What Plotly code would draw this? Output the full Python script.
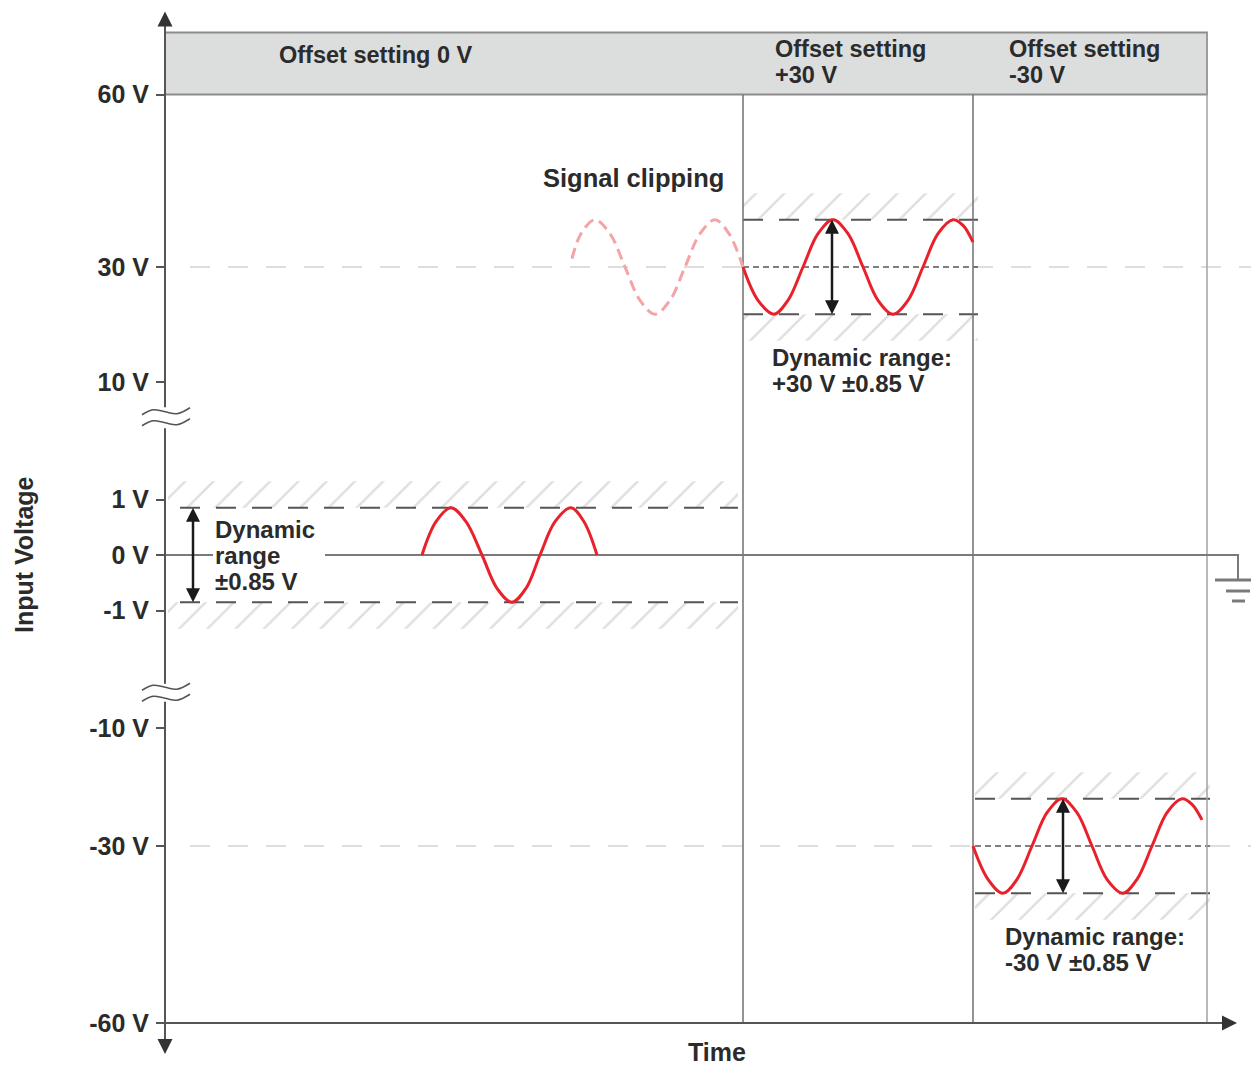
import numpy as np
import plotly.graph_objects as go

# ---------------- data ----------------
TICK_VOLTS = [60, 30, 10, 1, 0, -1, -10, -30, -60]
TICK_LABELS = ["60 V", "30 V", "10 V", "1 V", "0 V", "-1 V", "-10 V", "-30 V", "-60 V"]

WINDOW_TITLES = [["Offset setting 0 V"], ["Offset setting", "+30 V"], ["Offset setting", "-30 V"]]
WINDOW_OFFSETS = [0, 30, -30]            # offset of each window (V)
WINDOW_EDGES = [0, 578, 808, 1042]       # time at which the offset setting changes
RANGE_SPANS = [(15, 573), (578, 813), (810, 1045)]   # time span of dynamic-range bounds
HATCH_SPANS = [(3, 573), (578, 813), (810, 1045)]
DYN_HALF = 0.85      # dynamic range +-0.85 V
HATCH_DEPTH = 0.48   # hatched out-of-range zone (V)

RANGE_LABELS = [["Dynamic", "range", "\u00b10.85 V"],
                ["Dynamic range:", "+30 V \u00b10.85 V"],
                ["Dynamic range:", "-30 V \u00b10.85 V"]]

# signal in 0 V setting (time, deviation from offset in V)
SIG0_T = [257, 271, 286, 301, 317, 332, 347, 361, 375, 390, 406, 419, 432]
SIG0_DV = [0, 0.6, 0.85, 0.6, 0, -0.6, -0.85, -0.6, 0, 0.6, 0.85, 0.6, 0]
# clipped signal (30 V signal seen with 0 V offset)
CLIP_T = [407, 416, 430, 445, 460, 475, 490, 505, 520, 535, 550, 564, 578]
CLIP_DV = [0.15, 0.6, 0.85, 0.6, 0, -0.6, -0.85, -0.6, 0, 0.6, 0.85, 0.6, 0]
# signal in +30 V setting
SIGP_T = [578, 593, 609, 623, 638, 653, 668, 683, 698, 713, 728, 743, 758, 773, 788, 798, 808]
SIGP_DV = [0, -0.6, -0.85, -0.6, 0, 0.6, 0.85, 0.6, 0, -0.6, -0.85, -0.6, 0, 0.6, 0.85, 0.75, 0.45]
# signal in -30 V setting
SIGN_T = [808, 823, 838, 852, 867, 882, 897, 912, 927, 942, 958, 972, 987, 1002, 1017, 1027, 1037]
SIGN_DV = [0, -0.6, -0.85, -0.6, 0, 0.6, 0.85, 0.6, 0, -0.6, -0.85, -0.6, 0, 0.6, 0.85, 0.75, 0.47]

ARROW_T = [28, 667, 898]     # time of the dynamic-range arrows
GROUND_T = 1073
BREAK_V = 7.3                # where the voltage axis is broken

# ---------------- styles ----------------
FONT = "Liberation Sans, Arial, Helvetica, sans-serif"
TXT = "#2b2b2b"
RED = "#e8212b"
PINK = "#f5a3a6"
AX = "#555555"
DASH_C = "#555555"

# broken voltage scale (display units)
K_IN = 55.5
D10 = 173.0
K_POS = 5.75
K_NEG = 5.9


def v2d(v):
    v = np.asarray(v, float)
    a = np.abs(v)
    inner = a * K_IN
    mid = K_IN + (a - 1) * (D10 - K_IN) / 9.0
    k = np.where(v >= 0, K_POS, K_NEG)
    outer = D10 + (a - 10) * k
    d = np.where(a <= 1, inner, np.where(a <= 10, mid, outer))
    return np.sign(v) * d


def local(off, dv):
    return float(v2d(off)) + np.asarray(dv, float) * K_IN


fig = go.Figure()


def line(xs, ys, color, width, dash=None, spline=False):
    ln = dict(color=color, width=width)
    if dash:
        ln["dash"] = dash
    if spline:
        ln["shape"] = "spline"
        ln["smoothing"] = 1.0
    fig.add_trace(go.Scatter(x=list(xs), y=list(map(float, ys)), mode="lines", line=ln,
                             hoverinfo="skip", showlegend=False))


def marker(x, y, symbol, size, color):
    fig.add_trace(go.Scatter(x=[x], y=[float(y)], mode="markers",
                             marker=dict(symbol=symbol, size=size, color=color, line=dict(width=0)),
                             hoverinfo="skip", showlegend=False))


X0 = 0.0
Y_M60 = float(v2d(-60))
Y_P60 = float(v2d(60))
HEADER_TOP = Y_P60 + 62
AXIS_TOP = HEADER_TOP + 21
AXIS_BOT = Y_M60 - 31
T_END = 1094

# hatched out-of-range zones
for off, (a, b) in zip(WINDOW_OFFSETS, HATCH_SPANS):
    for sgn in (1, -1):
        y1 = local(off, sgn * DYN_HALF)
        y2 = local(off, sgn * (DYN_HALF + HATCH_DEPTH))
        fig.add_trace(go.Scatter(x=[a, b, b, a, a], y=[y1, y1, y2, y2, y1], mode="lines",
                                 line=dict(width=0), fill="toself", fillcolor="rgba(0,0,0,0)",
                                 fillpattern=dict(shape="/", size=20, solidity=0.12,
                                                  fgcolor="#bdbdbd", bgcolor="rgba(0,0,0,0)"),
                                 hoverinfo="skip", showlegend=False))

# +-30 V reference lines
c30 = float(v2d(30))
cm30 = float(v2d(-30))
LIGHT = "#d4d4d4"
line([25, WINDOW_EDGES[1]], [c30, c30], LIGHT, 1.5, "20px,18px")
line([WINDOW_EDGES[2], T_END], [c30, c30], LIGHT, 1.5, "20px,18px")
line([25, WINDOW_EDGES[2]], [cm30, cm30], LIGHT, 1.5, "20px,18px")
line([RANGE_SPANS[2][1], T_END], [cm30, cm30], LIGHT, 1.5, "20px,18px")

# window centre lines + dynamic range bounds
for i, off in enumerate(WINDOW_OFFSETS):
    a, b = RANGE_SPANS[i]
    c = float(v2d(off))
    if off != 0:
        line([a, b], [c, c], DASH_C, 1.5, "6px,4px")
    for sgn in (1, -1):
        y = local(off, sgn * DYN_HALF)
        line([a, b], [y, y], DASH_C, 2, "20px,16px")

# window dividers
for t in WINDOW_EDGES[1:3]:
    line([t, t], [Y_M60, Y_P60], "#707070", 1.5)
line([WINDOW_EDGES[3]] * 2, [Y_M60, HEADER_TOP], "#a2a2a2", 1.5)

# 0 V line and ground symbol
line([X0, 48], [0, 0], "#7a7a7a", 2)
line([160, GROUND_T, GROUND_T], [0, 0, -25], "#7a7a7a", 2)
line([GROUND_T - 23, T_END], [-25, -25], "#7a7a7a", 3)
line([GROUND_T - 12, GROUND_T + 12], [-36, -36], "#7a7a7a", 3)
line([GROUND_T - 6, GROUND_T + 7], [-46, -46], "#7a7a7a", 3)

# signals
line(CLIP_T, local(30, CLIP_DV), PINK, 3, "11px,6px", spline=True)
line(SIG0_T, local(0, SIG0_DV), RED, 3, spline=True)
line(SIGP_T, local(30, SIGP_DV), RED, 3, spline=True)
line(SIGN_T, local(-30, SIGN_DV), RED, 3, spline=True)

# dynamic-range arrows
for t, off in zip(ARROW_T, WINDOW_OFFSETS):
    top = local(off, DYN_HALF)
    bot = local(off, -DYN_HALF)
    line([t, t], [bot + 8, top - 8], "#1a1a1a", 2.5)
    marker(t, top, "arrow-up", 14, "#1a1a1a")
    marker(t, bot, "arrow-down", 14, "#1a1a1a")

# voltage axis (broken) and time axis
bu = float(v2d(BREAK_V))
bl = float(v2d(-BREAK_V))
line([X0, X0], [bu + 10, AXIS_TOP - 6], AX, 2)
line([X0, X0], [bl + 9, bu - 11], AX, 2)
line([X0, X0], [AXIS_BOT + 6, bl - 9], AX, 2)
line([X0, 1066], [Y_M60, Y_M60], AX, 2)
marker(X0, AXIS_TOP, "arrow-up", 15, "#333333")
marker(X0, AXIS_BOT, "arrow-down", 15, "#333333")
marker(1072, Y_M60, "arrow-right", 15, "#333333")

# break marks
WAVE_DT = [-23, -12, 0, 12, 25]
WAVE_DD = [-3, 2, 0, -2, 4]
for bc in (bu, bl):
    for dy in (5.5, -5.5):
        line(WAVE_DT, [bc + dy + w for w in WAVE_DD], "#555555", 1.5, spline=True)

# header band
fig.add_shape(type="rect", xref="x", yref="y", x0=X0, x1=WINDOW_EDGES[3], y0=Y_P60, y1=HEADER_TOP,
              fillcolor="#dcdddd", line=dict(color="#8c8c8c", width=2), layer="below")

ann = []


def text(x, y, s, size=24, xanchor="left", angle=0, pad=1):
    ann.append(dict(x=x, y=y, xref="x", yref="y", text=f"<b>{s}</b>", showarrow=False,
                    xanchor=xanchor, yanchor="middle", textangle=angle, borderpad=pad,
                    font=dict(family=FONT, size=size, color=TXT)))


# header titles
HEADER_X = [112, 608, 842]
for x, title in zip(HEADER_X, WINDOW_TITLES):
    if len(title) == 1:
        text(x, Y_P60 + 40, title[0], size=23.5)
    else:
        text(x, Y_P60 + 46, title[0], size=23.5)
        text(x, Y_P60 + 20, title[1], size=23.5)

# dynamic range labels
lab0 = RANGE_LABELS[0]
for k, s in enumerate(lab0):
    text(48, 26 - 26 * k, s)
for x, off, lab in zip([605, 838], WINDOW_OFFSETS[1:], RANGE_LABELS[1:]):
    c = float(v2d(off))
    text(x, c - 90, lab[0])
    text(x, c - 116, lab[1])

text(468, c30 + 89, "Signal clipping", size=25.5, xanchor="center")
text(-141, 0, "Input Voltage", size=25, xanchor="center", angle=-90, pad=0)
text(552, Y_M60 - 29, "Time", size=25, xanchor="center")

# the page places the figure 8 px from the top-left corner; size it to fill the window
PAGE_OFFSET = 8
W, H = 1259 - PAGE_OFFSET, 1066 - PAGE_OFFSET
X_LEFT = -165 + PAGE_OFFSET
Y_TOP = 555 - PAGE_OFFSET

fig.update_layout(
    width=W, height=H, margin=dict(l=0, r=0, t=0, b=0),
    paper_bgcolor="white", plot_bgcolor="white", showlegend=False,
    annotations=ann,
    xaxis=dict(range=[X_LEFT, X_LEFT + W], visible=False, fixedrange=True),
    yaxis=dict(range=[Y_TOP - H, Y_TOP], anchor="free", position=-X_LEFT / W,
               showgrid=False, zeroline=False, showline=False,
               ticks="outside", ticklen=9, tickwidth=1.5, tickcolor=AX,
               ticklabelstandoff=2,
               tickvals=[float(v) for v in v2d(TICK_VOLTS)],
               ticktext=[f"<b>{s}</b>" for s in TICK_LABELS],
               tickfont=dict(family=FONT, size=25, color=TXT),
               automargin=False, fixedrange=True),
)

fig.write_html("out.html")
